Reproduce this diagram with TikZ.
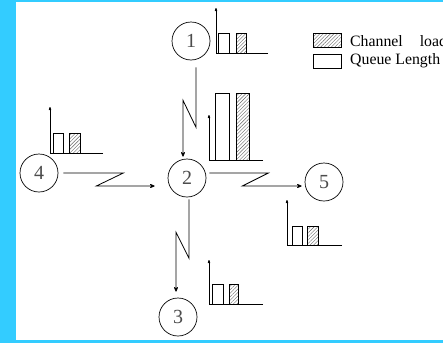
\documentclass[tikz,border=0pt]{standalone}
\usepackage{fontspec}
\setmainfont{Liberation Serif}
\usetikzlibrary{arrows.meta,patterns.meta,calc}
\definecolor{frameblue}{RGB}{51,204,255}
\begin{document}
\begin{tikzpicture}[x=1pt,y=-1pt,
  station/.style={circle,draw,line width=0.7pt,minimum size=38pt,inner sep=0pt,
    font=\fontsize{20}{20}\selectfont,text=black!70},
  link/.style={line width=0.8pt,-{Stealth[length=6pt,width=5pt,round]}},
  axis/.style={line width=0.8pt,-{Stealth[length=5pt,width=3.5pt,round]}},
  qbar/.style={draw,line width=0.8pt,fill=white},
  lbar/.style={draw,line width=0.8pt,
    pattern={Lines[angle=45,distance=2.5pt,line width=0.4pt]},pattern color=black!60},
  legendtext/.style={anchor=base west,inner sep=0pt,font=\fontsize{15.8}{15.8}\selectfont}]

% page and frame
\useasboundingbox (0,0) rectangle (443,343);
\clip (0,0) rectangle (443,343);
\fill[white] (0,0) rectangle (443,343);
\fill[frameblue] (0,0) rectangle (16,343);
\fill[frameblue] (0,0) rectangle (443,1.5);
\fill[frameblue] (0,340) rectangle (443,343);

% stations
\node[station] (n1) at (191,41) {1};
\node[station] (n2) at (187,178) {2};
\node[station] (n3) at (178,317) {3};
\node[station] (n4) at (39,173) {4};
\node[station] (n5) at (324,182) {5};

% wireless links (zigzag)
\draw[link] ($(n1.south)+(5,7)$) -- ++(0,60) -- ++(-13,-27) -- ($(n2.north)+(-4,-2)$);
\draw[link] ($(n4.east)+(5,0)$) -- ++(60,0) -- ++(-27,13) -- ($(n2.west)+(-13,8)$);
\draw[link] ($(n2.east)+(3,-5)$) -- ++(59,0) -- ++(-26,13) -- ($(n5.west)+(-3,4)$);
\draw[link] ($(n2.south)+(2,2)$) -- ++(0,59) -- ++(-13,-26) -- ($(n3.north)+(-2,-6)$);

% load charts: axis, queue length bar, channel load bar
% station 1
\draw[qbar] (218,53) rectangle (229,33);
\draw[lbar] (236,53) rectangle (246,33);
\draw[axis] (268,53) -- (216,53) -- (216,8);
% station 2
\draw[qbar] (215,160) rectangle (229,93);
\draw[lbar] (236,160) rectangle (249,93);
\draw[axis] (263,160) -- (209,160) -- (209,115);
% station 4
\draw[qbar] (53,153) rectangle (63,133);
\draw[lbar] (69,153) rectangle (80,133);
\draw[axis] (103,153) -- (50,153) -- (50,107);
% station 5
\draw[qbar] (292,245) rectangle (302,226);
\draw[lbar] (307,245) rectangle (318,226);
\draw[axis] (342,245) -- (287,245) -- (287,200);
% station 3
\draw[qbar] (212,304) rectangle (223,284);
\draw[lbar] (229,304) rectangle (238,284);
\draw[axis] (263,304) -- (209,304) -- (209,260);

% legend
\draw[lbar] (313,33) rectangle (341,47);
\draw[qbar] (313,54) rectangle (341,68);
\node[legendtext] (lg1) at (350,46) {Channel\hspace{17pt}load};
\node[legendtext] (lg2) at (350,64) {Queue Length};
\end{tikzpicture}
\end{document}
